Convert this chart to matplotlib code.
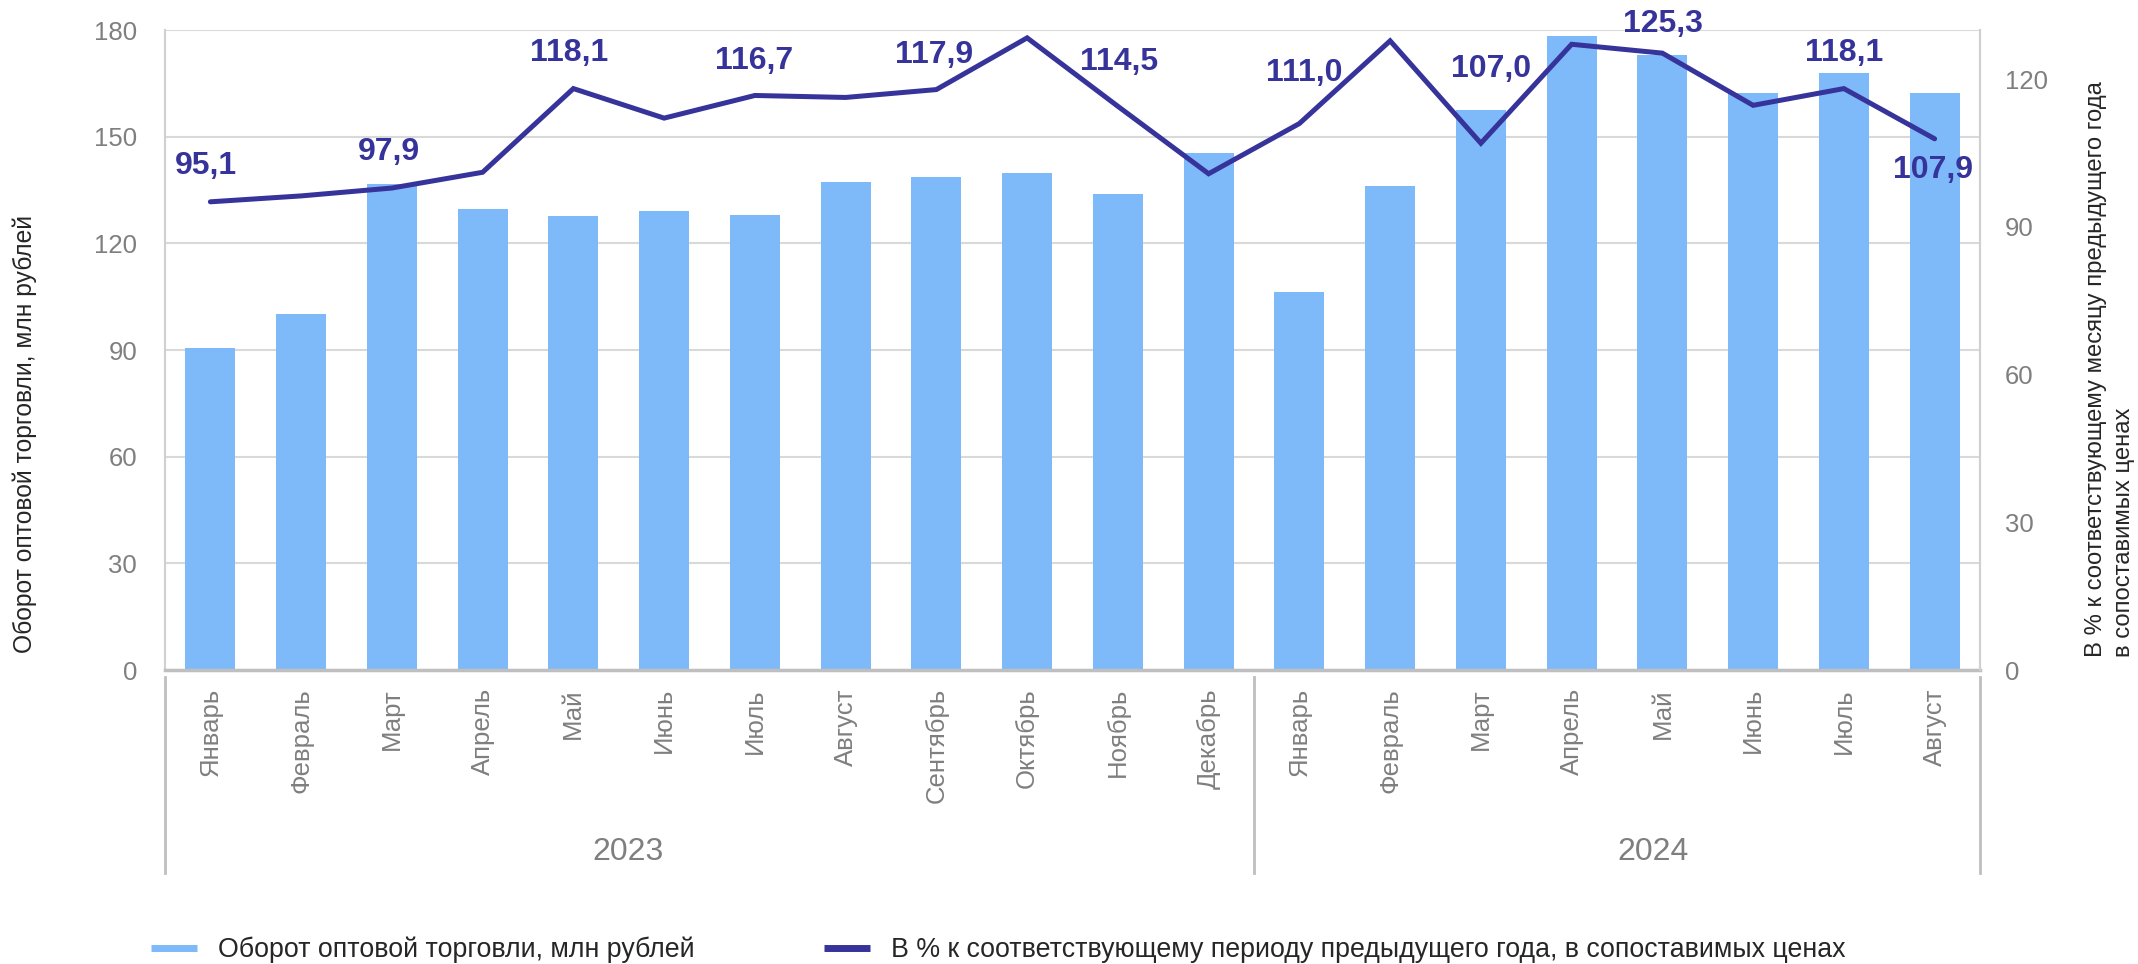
import matplotlib
matplotlib.use("Agg")
import matplotlib.pyplot as plt
import matplotlib.transforms as mtransforms
from matplotlib.lines import Line2D

plt.rcParams['font.family'] = ['Liberation Sans', 'DejaVu Sans']

months = ['Январь', 'Февраль', 'Март', 'Апрель', 'Май', 'Июнь', 'Июль', 'Август',
          'Сентябрь', 'Октябрь', 'Ноябрь', 'Декабрь',
          'Январь', 'Февраль', 'Март', 'Апрель', 'Май', 'Июнь', 'Июль', 'Август']
years = ['2023', '2024']
turnover = [90.5, 100.1, 136.7, 129.6, 127.6, 129.2, 128.0, 137.3, 138.6, 139.9, 134.0, 145.3,
            106.2, 136.2, 157.6, 178.3, 172.9, 162.4, 168.0, 162.2]
pct = [95.1, 96.3, 97.9, 101.1, 118.1, 112.1, 116.7, 116.3, 117.9, 128.4, 114.5, 100.8,
       111.0, 127.8, 107.0, 127.1, 125.3, 114.7, 118.1, 107.9]
# which points get a label, and the label shift in pixels (dx, dy)
label_idx = [0, 2, 4, 6, 8, 10, 12, 14, 16, 18, 19]
label_shift = [(-4, 36), (-3, 36), (-4, 36), (-1, 34), (-2, 35), (1, 44), (5, 51),
               (10, 74), (1, 29), (0, 36), (-2, -31)]

BAR = '#7EB9F9'
LINE = '#36339A'
GRAY = '#7F7F7F'
W, H = 2138, 964

fig = plt.figure(figsize=(W / 100, H / 100), dpi=100)
ax = fig.add_axes([165 / W, 1 - 670 / H, (1980 - 165) / W, 640 / H])
x = list(range(len(months)))

ax.bar(x, turnover, width=0.55, color=BAR, zorder=2)
ax.set_xlim(-0.5, len(months) - 0.5)
ax.set_ylim(0, 180)
ax.set_yticks(range(0, 181, 30))
ax.grid(axis='y', color='#D9D9D9', lw=1.5, zorder=0)
ax.set_axisbelow(True)
ax.tick_params(axis='y', length=0, pad=20, labelsize=18.5, labelcolor=GRAY)
ax.set_xticks(x)
ax.set_xticklabels(months, rotation=90, va='top')
ax.tick_params(axis='x', length=0, pad=13, labelsize=18.5, labelcolor=GRAY)
for s in ['left', 'right']:
    ax.spines[s].set_color('#D0D0D0')
    ax.spines[s].set_linewidth(1.5)
ax.spines['top'].set_visible(False)
ax.spines['bottom'].set_color('#BFBFBF')
ax.spines['bottom'].set_linewidth(2.5)

ax2 = ax.twinx()
ax2.plot(x, pct, color=LINE, lw=3.6, solid_joinstyle='miter', solid_capstyle='round', zorder=3)
ax2.set_ylim(0, 130)
ax2.set_yticks(range(0, 121, 30))
ax2.tick_params(axis='y', length=0, pad=18, labelsize=18.5, labelcolor=GRAY)
for s in ['left', 'top', 'bottom']:
    ax2.spines[s].set_visible(False)
ax2.spines['right'].set_color('#D0D0D0')
ax2.spines['right'].set_linewidth(1.5)

for i, (dx, dy) in zip(label_idx, label_shift):
    ax2.annotate(f'{pct[i]:.1f}'.replace('.', ','), (x[i], pct[i]), xytext=(dx, dy),
                 textcoords='offset pixels', ha='center', va='center',
                 fontsize=23, fontweight='bold', color=LINE, annotation_clip=False)

# group separators and year labels under the month labels
tr = mtransforms.blended_transform_factory(ax.transData, ax.transAxes)
for sx in [-0.5, 11.5, 19.5]:
    ax.plot([sx, sx], [-0.011, -0.317], transform=tr, color='#BFBFBF', lw=2, clip_on=False)
for yx, yl in zip([4.6, 15.9], years):
    ax.text(yx, -0.284, yl, transform=tr, ha='center', va='center', fontsize=23, color=GRAY)

fig.text(25 / W, 1 - 434 / H, 'Оборот оптовой торговли, млн рублей', rotation=90,
         ha='center', va='center', fontsize=17.7, color='#262626')
fig.text(2110 / W, 1 - 657 / H,
         'В % к соответствующему месяцу предыдущего года\nв сопоставимых ценах',
         rotation=90, ha='center', va='bottom', multialignment='left',
         fontsize=17.2, color='#262626', linespacing=1.3)

h1 = Line2D([], [], color=BAR, lw=5, solid_capstyle='butt')
h2 = Line2D([], [], color=LINE, lw=5, solid_capstyle='butt')
leg_kw = dict(loc='center left', frameon=False, fontsize=19.3, handlelength=1.7,
              handletextpad=0.8, borderpad=0, borderaxespad=0, labelcolor='#262626')
fig.legend([h1], ['Оборот оптовой торговли, млн рублей'],
           bbox_to_anchor=(151 / W, 1 - 950 / H), **leg_kw)
fig.legend([h2], ['В % к соответствующему периоду предыдущего года, в сопоставимых ценах'],
           bbox_to_anchor=(824 / W, 1 - 950 / H), **leg_kw)

fig.savefig('out.png', dpi=100)
